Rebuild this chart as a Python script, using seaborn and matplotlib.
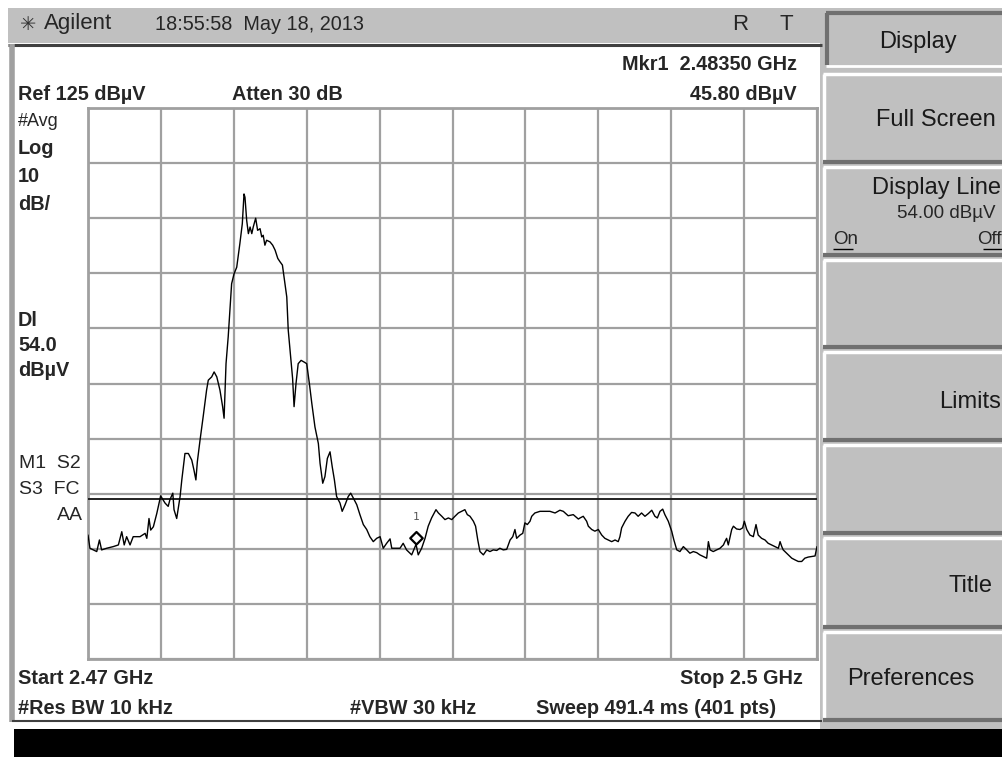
import matplotlib
matplotlib.use("Agg")
import numpy as np
import matplotlib.pyplot as plt
from matplotlib.patches import Rectangle
from matplotlib.path import Path
import seaborn as sns

# trace: frequency in MHz, level in dBuV
freq_mhz = [
    2470.00, 2470.08, 2470.36, 2470.47, 2470.56, 2470.77, 2471.04, 2471.25, 2471.39, 2471.49,
    2471.59, 2471.73, 2471.86, 2472.14, 2472.35, 2472.42, 2472.51, 2472.58, 2472.69, 2472.83,
    2472.99, 2473.17, 2473.30, 2473.37, 2473.49, 2473.54, 2473.65, 2473.79, 2473.86, 2473.99,
    2474.13, 2474.27, 2474.36, 2474.44, 2474.50, 2474.61, 2474.74, 2474.88, 2474.95, 2475.09,
    2475.19, 2475.30, 2475.43, 2475.54, 2475.60, 2475.68, 2475.77, 2475.84, 2475.91, 2476.01,
    2476.12, 2476.25, 2476.35, 2476.42, 2476.46, 2476.53, 2476.60, 2476.67, 2476.74, 2476.80,
    2476.90, 2476.98, 2477.08, 2477.15, 2477.21, 2477.28, 2477.35, 2477.49, 2477.60, 2477.70,
    2477.81, 2477.90, 2478.00, 2478.07, 2478.18, 2478.24, 2478.34, 2478.42, 2478.48, 2478.56,
    2478.65, 2478.77, 2478.89, 2479.00, 2479.11, 2479.21, 2479.34, 2479.48, 2479.55, 2479.66,
    2479.75, 2479.85, 2479.96, 2480.05, 2480.14, 2480.23, 2480.37, 2480.46, 2480.58, 2480.71,
    2480.81, 2480.92, 2481.06, 2481.19, 2481.33, 2481.47, 2481.60, 2481.74, 2481.88, 2482.02,
    2482.15, 2482.29, 2482.43, 2482.50, 2482.63, 2482.84, 2482.97, 2483.11, 2483.32, 2483.50,
    2483.59, 2483.73, 2483.87, 2484.00, 2484.14, 2484.32, 2484.42, 2484.56, 2484.69, 2484.83,
    2484.97, 2485.10, 2485.24, 2485.38, 2485.51, 2485.61, 2485.72, 2485.86, 2485.95, 2486.04,
    2486.13, 2486.27, 2486.41, 2486.54, 2486.68, 2486.82, 2486.95, 2487.09, 2487.23, 2487.37,
    2487.48, 2487.57, 2487.64, 2487.78, 2487.89, 2487.98, 2488.08, 2488.19, 2488.26, 2488.39,
    2488.60, 2488.81, 2489.01, 2489.22, 2489.42, 2489.56, 2489.76, 2489.97, 2490.18, 2490.25,
    2490.38, 2490.52, 2490.59, 2490.73, 2490.86, 2491.00, 2491.14, 2491.27, 2491.41, 2491.55,
    2491.69, 2491.82, 2491.89, 2491.96, 2492.10, 2492.23, 2492.37, 2492.51, 2492.64, 2492.78,
    2492.92, 2493.06, 2493.20, 2493.33, 2493.43, 2493.54, 2493.65, 2493.74, 2493.88, 2494.02,
    2494.11, 2494.23, 2494.36, 2494.50, 2494.64, 2494.77, 2494.91, 2495.05, 2495.18, 2495.32,
    2495.46, 2495.53, 2495.60, 2495.73, 2495.87, 2496.01, 2496.15, 2496.21, 2496.28, 2496.35,
    2496.49, 2496.56, 2496.69, 2496.83, 2496.94, 2497.01, 2497.11, 2497.24, 2497.38, 2497.49,
    2497.58, 2497.72, 2497.86, 2497.99, 2498.13, 2498.27, 2498.41, 2498.48, 2498.55, 2498.61,
    2498.82, 2498.96, 2499.09, 2499.23, 2499.37, 2499.50, 2499.64, 2499.79, 2499.92, 2500.00,
]
level_dbuv = [
    47.5, 45.1, 44.5, 46.6, 44.8, 45.1, 45.4, 45.7, 48.1, 45.7,
    47.2, 45.7, 47.2, 47.2, 47.8, 46.9, 50.5, 48.4, 49.0, 51.4,
    54.6, 53.3, 52.7, 53.9, 55.1, 52.1, 50.5, 54.5, 57.5, 62.3,
    62.3, 61.1, 59.3, 57.5, 60.8, 64.7, 69.0, 73.8, 75.6, 76.2,
    77.1, 76.2, 73.8, 70.8, 68.7, 78.6, 83.5, 88.3, 93.1, 94.9,
    96.1, 100.4, 104.0, 109.4, 108.8, 104.6, 102.2, 103.4, 102.2, 103.4,
    105.0, 102.8, 103.1, 101.6, 101.9, 100.1, 101.0, 100.7, 100.1, 99.2,
    97.7, 97.1, 96.5, 94.3, 90.7, 84.7, 79.8, 75.9, 70.8, 75.0,
    78.6, 79.2, 78.9, 78.6, 75.0, 71.4, 67.1, 64.1, 60.5, 56.9,
    58.1, 61.4, 62.6, 59.9, 57.5, 54.5, 53.3, 51.8, 53.0, 54.5,
    55.1, 54.2, 53.0, 51.2, 49.4, 48.5, 47.2, 46.3, 46.9, 47.2,
    45.1, 46.0, 46.8, 45.1, 45.1, 45.1, 46.0, 44.8, 43.9, 45.8,
    43.9, 45.1, 46.9, 49.1, 50.6, 52.1, 51.5, 50.9, 50.3, 50.6,
    50.3, 50.9, 51.5, 51.8, 52.1, 51.2, 50.9, 50.0, 49.1, 46.6,
    44.5, 43.9, 44.8, 44.5, 44.8, 44.7, 45.1, 44.8, 44.9, 46.6,
    47.2, 48.5, 46.9, 47.5, 47.8, 49.7, 49.4, 50.0, 50.9, 51.5,
    51.8, 51.8, 51.8, 51.5, 52.0, 51.8, 51.0, 51.2, 50.4, 50.6,
    50.9, 50.0, 49.1, 48.5, 48.2, 48.5, 47.5, 46.9, 46.6, 46.3,
    46.6, 46.3, 47.2, 48.8, 50.0, 50.9, 51.6, 51.5, 50.9, 51.5,
    50.9, 51.4, 52.0, 50.9, 50.6, 51.8, 52.2, 51.2, 50.0, 48.2,
    46.6, 44.8, 44.5, 45.4, 44.8, 44.2, 44.5, 44.3, 43.9, 43.6,
    43.3, 46.3, 44.8, 44.5, 44.8, 45.1, 45.7, 46.3, 46.9, 45.7,
    48.5, 49.1, 48.6, 48.5, 48.8, 50.0, 48.5, 47.5, 47.2, 49.4,
    47.5, 46.9, 46.6, 46.0, 45.7, 45.4, 45.1, 46.3, 45.4, 44.8,
    43.9, 43.3, 43.0, 42.7, 42.7, 43.3, 43.5, 43.6, 43.7, 45.4,
]

start_mhz, stop_mhz = 2470, 2500
ref_level, db_per_div = 125, 10
display_line = 54.0
mkr_freq, mkr_level = 2483.50, 45.80

softkeys = ["Full Screen", "Display Line", "", "Limits", "", "Title", "Preferences"]

W, H = 1003, 757


def fx(x):
    return x / W


def fy(y):
    return 1 - y / H


def box(fig, x0, y0, x1, y1, color, z=0):
    fig.add_artist(Rectangle((fx(x0), fy(y1)), fx(x1 - x0), (y1 - y0) / H,
                             transform=fig.transFigure, facecolor=color,
                             edgecolor='none', zorder=z))


def hline(fig, x0, x1, y, color, lw, z=1):
    fig.add_artist(plt.Line2D([fx(x0), fx(x1)], [fy(y), fy(y)], transform=fig.transFigure,
                              color=color, lw=lw, zorder=z, solid_capstyle='butt'))


def vline(fig, x, y0, y1, color, lw, z=1):
    fig.add_artist(plt.Line2D([fx(x), fx(x)], [fy(y0), fy(y1)], transform=fig.transFigure,
                              color=color, lw=lw, zorder=z, solid_capstyle='butt'))


sns.set_style("white")
plt.rcParams['font.family'] = ['Liberation Sans', 'DejaVu Sans']

fig = plt.figure(figsize=(W / 100, H / 100), dpi=100)
fig.patch.set_facecolor('white')

grey = '#c0c0c0'
# header band, right panel, bottom bar
box(fig, 8, 8, 822, 43, grey)
hline(fig, 8, 822, 44.5, '#404040', 2.2)
box(fig, 820, 8, W, 730, grey)
box(fig, 14, 729, W, H, 'black')
vline(fig, 12, 44, 722, '#a0a0a0', 4)
hline(fig, 12, 822, 721, '#404040', 1.5)

# softkey buttons
tops = [74, 167, 260, 352, 445, 538, 632]
bots = [162, 255, 347, 440, 533, 627, 720]
for t, b in zip(tops, bots):
    hline(fig, 823, W, t, 'white', 2.5, 2)
    vline(fig, 824, t, b, 'white', 2.5, 2)
    hline(fig, 823, W, b, '#707070', 3, 2)
# "Display" key (pressed look)
hline(fig, 826, W, 13, '#707070', 3, 2)
vline(fig, 827, 13, 65, '#707070', 3, 2)
hline(fig, 826, W, 66, 'white', 2, 2)

key = dict(fontsize=17, va='center', color='#1a1a1a')
fig.text(fx(918), fy(42), "Display", ha='center', **key)
fig.text(fx(996), fy(120), softkeys[0], ha='right', **key)
fig.text(fx(1001), fy(188), softkeys[1], ha='right', **key)
fig.text(fx(996), fy(214), "54.00 dBµV", fontsize=13.5, ha='right', va='center')
fig.text(fx(833), fy(239), "On", fontsize=13.5, ha='left', va='center')
hline(fig, 833, 853, 249, 'black', 1, 3)
fig.text(fx(1002), fy(239), "Off", fontsize=13.5, ha='right', va='center')
hline(fig, 983, 1002, 249, 'black', 1, 3)
fig.text(fx(1001), fy(402), softkeys[3], ha='right', **key)
fig.text(fx(993), fy(586), softkeys[5], ha='right', **key)
fig.text(fx(911), fy(679), softkeys[6], ha='center', **key)

# header texts
fig.text(fx(20), fy(24), "✳", fontsize=14, ha='left', va='center', color='#333333',
         family=['DejaVu Sans'])
fig.text(fx(44), fy(24), "Agilent", fontsize=16, ha='left', va='center')
fig.text(fx(155), fy(24), "18:55:58  May 18, 2013", fontsize=14.3, ha='left', va='center')
fig.text(fx(740), fy(24), "R", fontsize=16, ha='center', va='center')
fig.text(fx(786), fy(24), "T", fontsize=16, ha='center', va='center')

# annotation texts around the graticule
bold = dict(fontsize=14.3, fontweight='bold', va='center')
norm = dict(fontsize=14, va='center')
fig.text(fx(797), fy(65), "Mkr1  2.48350 GHz", ha='right', **bold)
fig.text(fx(18), fy(95), f"Ref {ref_level} dBµV", ha='left', **bold)
fig.text(fx(232), fy(95), "Atten 30 dB", ha='left', **bold)
fig.text(fx(797), fy(95), f"{mkr_level:.2f} dBµV", ha='right', **bold)

fig.text(fx(18), fy(122), "#Avg", ha='left', fontsize=13, va='center')
fig.text(fx(18), fy(149), "Log", ha='left', **bold)
fig.text(fx(18), fy(177), f"{db_per_div}", ha='left', **bold)
fig.text(fx(18), fy(205), "dB/", ha='left', **bold)
fig.text(fx(18), fy(320), "Dl", ha='left', **bold)
fig.text(fx(18), fy(345), f"{display_line:.1f}", ha='left', **bold)
fig.text(fx(18), fy(370), "dBµV", ha='left', **bold)
fig.text(fx(19), fy(463), "M1  S2", ha='left', **norm)
fig.text(fx(19), fy(489), "S3  FC", ha='left', **norm)
fig.text(fx(83), fy(515), "AA", ha='right', **norm)

fig.text(fx(18), fy(679), "Start 2.47 GHz", ha='left', **bold)
fig.text(fx(803), fy(679), "Stop 2.5 GHz", ha='right', **bold)
fig.text(fx(18), fy(708), "#Res BW 10 kHz", ha='left', **bold)
fig.text(fx(350), fy(708), "#VBW 30 kHz", ha='left', **bold)
fig.text(fx(536), fy(708), "Sweep 491.4 ms (401 pts)", ha='left', **bold)

# graticule
ax = fig.add_axes([fx(88), fy(659), (817 - 88) / W, (659 - 108) / H])
ax.set_facecolor('white')
ax.set_xlim(start_mhz, stop_mhz)
ax.set_ylim(ref_level - 10 * db_per_div, ref_level)
ax.set_xticks(np.linspace(start_mhz, stop_mhz, 11))
ax.set_yticks(np.arange(ref_level - 10 * db_per_div, ref_level + 1, db_per_div))
ax.tick_params(length=0, labelbottom=False, labelleft=False)
ax.grid(True, color='#a0a0a0', lw=1.6)
for s in ax.spines.values():
    s.set_color('#a0a0a0')
    s.set_linewidth(2)

sns.lineplot(x=freq_mhz, y=level_dbuv, ax=ax, color='black', lw=1.0,
             estimator=None, sort=False, zorder=4)
ax.axhline(display_line, color='#202020', lw=1.4, zorder=3)

diamond = Path([(0, 0), (-1, 1), (0, 2), (1, 1), (0, 0)],
               [Path.MOVETO, Path.LINETO, Path.LINETO, Path.LINETO, Path.CLOSEPOLY])
ax.plot([mkr_freq], [mkr_level], marker=diamond, ms=18, mfc='white', mec='black',
        mew=1.6, ls='none', zorder=5)
ax.annotate("1", (mkr_freq, mkr_level), xytext=(0, 20), textcoords='offset points',
            ha='center', va='center', fontsize=8, color='#555555', family=['DejaVu Sans Mono'])
ax.set_xlabel('')
ax.set_ylabel('')

fig.savefig("out.png", dpi=100)
